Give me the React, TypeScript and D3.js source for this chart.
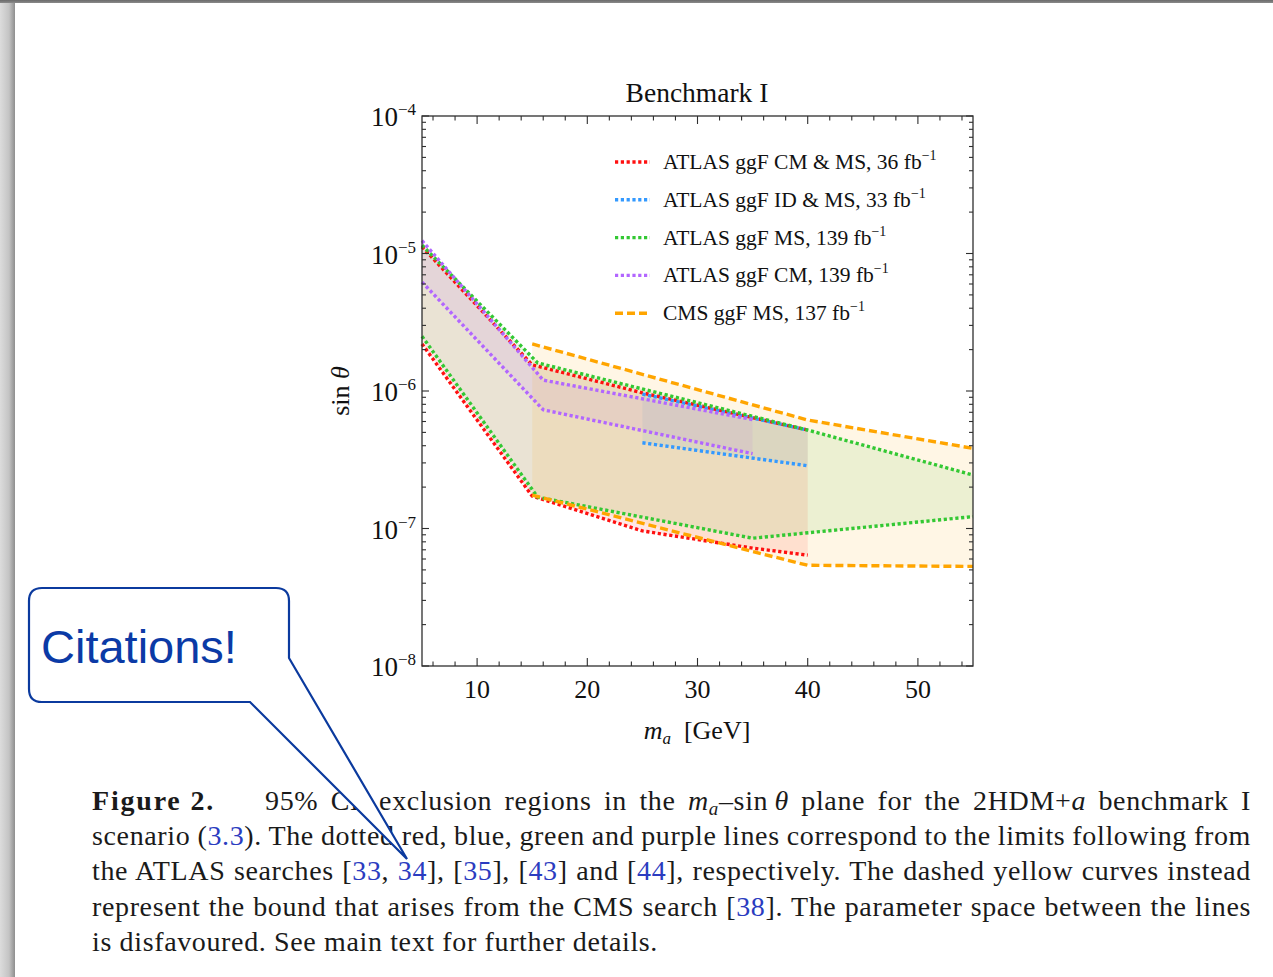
import React, { useLayoutEffect, useRef } from 'react';
import * as d3 from 'd3';

const W = 1273;
const H = 977;

// Exclusion limits on sin θ versus m_a (GeV), one upper and one lower curve per search
const redUpperX = [5, 15, 25, 40];
const redUpperY = [1.12e-5, 1.55e-6, 9.7e-7, 5.2e-7];
const redLowerX = [5, 15, 25, 35, 40];
const redLowerY = [2.2e-6, 1.72e-7, 9.6e-8, 7.2e-8, 6.4e-8];

const blueX = [25, 40];
const blueUpperY = [9.5e-7, 5.2e-7];
const blueLowerY = [4.2e-7, 2.86e-7];

const greenUpperX = [5, 15.5, 40, 55];
const greenUpperY = [1.15e-5, 1.6e-6, 5.2e-7, 2.45e-7];
const greenLowerX = [5, 15.5, 35, 55];
const greenLowerY = [2.5e-6, 1.69e-7, 8.5e-8, 1.22e-7];

const purpleX = [5, 16, 35];
const purpleUpperY = [1.24e-5, 1.2e-6, 6.2e-7];
const purpleLowerY = [6.2e-6, 7.3e-7, 3.5e-7];

const orangeUpperX = [15, 40, 55];
const orangeUpperY = [2.2e-6, 6.15e-7, 3.83e-7];
const orangeLowerX = [15, 35, 40, 55];
const orangeLowerY = [1.75e-7, 6.8e-8, 5.4e-8, 5.3e-8];

const legendLabels = [
  'ATLAS ggF CM & MS, 36 fb',
  'ATLAS ggF ID & MS, 33 fb',
  'ATLAS ggF MS, 139 fb',
  'ATLAS ggF CM, 139 fb',
  'CMS ggF MS, 137 fb',
];
const seriesColors = ['#ff1010', '#3399ff', '#33c833', '#b266ff', '#ffa500'];
const seriesDash = ['3.2 2.6', '3.2 2.6', '3.2 2.6', '3.2 2.6', '8 4'];

const xMajorTicks = [10, 20, 30, 40, 50];
const yExponents = [-4, -5, -6, -7, -8];

const zip = (xs: number[], ys: number[]) => xs.map((v, i) => [v, ys[i]] as [number, number]);

const series = [
  { upper: zip(redUpperX, redUpperY), lower: zip(redLowerX, redLowerY) },
  { upper: zip(blueX, blueUpperY), lower: zip(blueX, blueLowerY) },
  { upper: zip(greenUpperX, greenUpperY), lower: zip(greenLowerX, greenLowerY) },
  { upper: zip(purpleX, purpleUpperY), lower: zip(purpleX, purpleLowerY) },
  { upper: zip(orangeUpperX, orangeUpperY), lower: zip(orangeLowerX, orangeLowerY) },
];

const SERIF = '"Liberation Serif", "Times New Roman", serif';
const CITE = '#2b3cc0';

// caption layout: left margin, right margin, width of the last (ragged) line
const CAP_LEFT = 92;
const CAP_RIGHT = 1251;
const CAP_LAST_WIDTH = 566;
const FIG_LABEL_WIDTH = 123;
const FIRST_LINE_START = 265;

export default function App() {
  const x = d3.scaleLinear().domain([5, 55]).range([422, 973]);
  const y = d3.scaleLog().domain([1e-8, 1e-4]).range([666, 116]);
  const [x0, x1] = x.range();
  const [y0, y1] = y.range();

  const capRefs = useRef<(SVGTextElement | null)[]>([]);
  const figRef = useRef<SVGTextElement | null>(null);

  // widen the serif glyph run to the caption's measure and justify with word spacing
  useLayoutEffect(() => {
    const els = capRefs.current;
    const last = els[4];
    if (!last) return;
    const lastText = last.textContent ?? '';
    const natural = last.getComputedTextLength();
    const ls = (CAP_LAST_WIDTH - natural) / Math.max(1, lastText.length);
    els.forEach((el) => el && el.setAttribute('letter-spacing', String(ls)));
    const targets = [CAP_RIGHT - FIRST_LINE_START, CAP_RIGHT - CAP_LEFT, CAP_RIGHT - CAP_LEFT, CAP_RIGHT - CAP_LEFT];
    targets.forEach((t, i) => {
      const el = els[i];
      if (!el) return;
      const txt = el.textContent ?? '';
      const spaces = (txt.match(/ /g) || []).length;
      const w = el.getComputedTextLength();
      el.setAttribute('word-spacing', String((t - w) / Math.max(1, spaces)));
    });
    const fig = figRef.current;
    if (fig) {
      const t = fig.textContent ?? '';
      const w = fig.getComputedTextLength();
      fig.setAttribute('letter-spacing', String((FIG_LABEL_WIDTH - w) / Math.max(1, t.length)));
    }
  }, []);

  const line = d3
    .line<[number, number]>()
    .x((d) => x(d[0]))
    .y((d) => y(d[1]));

  const xTicks = x.ticks(25);
  const yTicks = y.ticks();
  const isMajorY = (v: number) => Math.abs(Math.log10(v) - Math.round(Math.log10(v))) < 1e-9;

  const frame = '#2e2e2e';

  return (
    <svg
      width={W}
      height={H}
      viewBox={`0 0 ${W} ${H}`}
      style={{ position: 'absolute', left: 0, top: 0, background: '#fff' }}
      fontFamily={SERIF}
    >
      <defs>
        <linearGradient id="sideShade" x1="0" x2="1" y1="0" y2="0">
          <stop offset="0" stopColor="#dcdcdc" />
          <stop offset="0.6" stopColor="#c4c4c4" />
          <stop offset="1" stopColor="#8e8e8e" />
        </linearGradient>
        <linearGradient id="topShade" x1="0" x2="0" y1="0" y2="1">
          <stop offset="0" stopColor="#6a6a6a" />
          <stop offset="1" stopColor="#8a8a8a" />
        </linearGradient>
      </defs>

      {/* page edges */}
      <rect x={0} y={0} width={W} height={H} fill="#fff" />
      <rect x={0} y={0} width={15} height={H} fill="url(#sideShade)" />
      <rect x={0} y={0} width={W} height={3} fill="url(#topShade)" />

      {/* title */}
      <text x={697} y={102} textAnchor="middle" fontSize={27.5} fill="#111">
        Benchmark I
      </text>

      {/* shaded regions between each pair of curves */}
      <g>
        {series.map((s, i) => (
          <path
            key={`fill-${i}`}
            d={line([...s.upper, ...[...s.lower].reverse()]) + 'Z'}
            fill={seriesColors[i]}
            fillOpacity={0.1}
            stroke="none"
          />
        ))}
      </g>

      {/* limit curves */}
      <g fill="none" strokeWidth={3.4}>
        {series.map((s, i) => (
          <g key={`curves-${i}`} stroke={seriesColors[i]} strokeDasharray={seriesDash[i]}>
            <path d={line(s.upper) ?? ''} />
            <path d={line(s.lower) ?? ''} />
          </g>
        ))}
      </g>

      {/* frame */}
      <rect x={x0} y={y1} width={x1 - x0} height={y0 - y1} fill="none" stroke={frame} strokeWidth={1.3} />

      {/* ticks on all four sides, pointing inward */}
      <g stroke={frame} strokeWidth={1.1}>
        {xTicks.map((t) => {
          const len = t % 10 === 0 ? 8 : 4.5;
          return (
            <g key={`xt-${t}`}>
              <line x1={x(t)} x2={x(t)} y1={y0} y2={y0 - len} />
              <line x1={x(t)} x2={x(t)} y1={y1} y2={y1 + len} />
            </g>
          );
        })}
        {yTicks.map((t, i) => {
          const len = isMajorY(t) ? 7 : 4;
          return (
            <g key={`yt-${i}`}>
              <line x1={x0} x2={x0 + len} y1={y(t)} y2={y(t)} />
              <line x1={x1} x2={x1 - len} y1={y(t)} y2={y(t)} />
            </g>
          );
        })}
      </g>

      {/* tick labels */}
      <g fontSize={26} fill="#111">
        {xMajorTicks.map((t) => (
          <text key={`xl-${t}`} x={x(t)} y={698} textAnchor="middle">
            {t}
          </text>
        ))}
        {yExponents.map((e) => (
          <text key={`yl-${e}`} x={416} y={y(Math.pow(10, e)) + 10} textAnchor="end" fontSize={27}>
            10
            <tspan dy={-11} fontSize={17}>
              {`\u2212${-e}`}
            </tspan>
          </text>
        ))}
      </g>

      {/* axis titles */}
      <text x={697} y={739} textAnchor="middle" fontSize={26} fill="#111">
        <tspan fontStyle="italic">m</tspan>
        <tspan fontStyle="italic" fontSize={17} dy={5}>
          a
        </tspan>
        <tspan dy={-5}>{'\u2002[GeV]'}</tspan>
      </text>
      <text transform="translate(349,391) rotate(-90)" textAnchor="middle" fontSize={26} fill="#111">
        sin <tspan fontStyle="italic">θ</tspan>
      </text>

      {/* legend */}
      <g>
        {legendLabels.map((lab, i) => {
          const ly = 162 + i * 37.8;
          return (
            <g key={`lg-${i}`}>
              <line
                x1={615}
                x2={650}
                y1={ly}
                y2={ly}
                stroke={seriesColors[i]}
                strokeWidth={3.4}
                strokeDasharray={seriesDash[i]}
              />
              <text x={663} y={ly + 7} fontSize={21.5} fill="#111">
                {lab}
                <tspan dy={-9} fontSize={14}>
                  {'\u22121'}
                </tspan>
              </text>
            </g>
          );
        })}
      </g>

      {/* caption */}
      <g fontSize={28} fill="#1a1a1a">
        <text ref={figRef} x={CAP_LEFT} y={810} fontWeight="bold">
          Figure 2.
        </text>
        <text ref={(el) => (capRefs.current[0] = el)} x={FIRST_LINE_START} y={810}>
          95% CL exclusion regions in the <tspan fontStyle="italic">m</tspan>
          <tspan fontStyle="italic" fontSize={19} dy={5}>
            a
          </tspan>
          <tspan dy={-5}>{'\u2013sin\u2009'}</tspan>
          <tspan fontStyle="italic">θ</tspan> plane for the 2HDM+<tspan fontStyle="italic">a</tspan> benchmark I
        </text>
        <text ref={(el) => (capRefs.current[1] = el)} x={CAP_LEFT} y={845}>
          scenario (<tspan fill={CITE}>3.3</tspan>). The dotted red, blue, green and purple lines correspond to the
          limits following from
        </text>
        <text ref={(el) => (capRefs.current[2] = el)} x={CAP_LEFT} y={880}>
          the ATLAS searches [<tspan fill={CITE}>33</tspan>, <tspan fill={CITE}>34</tspan>], [
          <tspan fill={CITE}>35</tspan>], [<tspan fill={CITE}>43</tspan>] and [<tspan fill={CITE}>44</tspan>],
          respectively. The dashed yellow curves instead
        </text>
        <text ref={(el) => (capRefs.current[3] = el)} x={CAP_LEFT} y={916}>
          represent the bound that arises from the CMS search [<tspan fill={CITE}>38</tspan>]. The parameter space
          between the lines
        </text>
        <text ref={(el) => (capRefs.current[4] = el)} x={CAP_LEFT} y={951}>
          is disfavoured. See main text for further details.
        </text>
      </g>

      {/* callout */}
      <path
        d="M42,588 L276,588 Q289,588 289,601 L289,658 L407,859 L250,702 L42,702 Q29,702 29,689 L29,601 Q29,588 42,588 Z"
        fill="#fff"
        stroke="#0b3a9e"
        strokeWidth={2.2}
        strokeLinejoin="miter"
      />
      <text x={41} y={663} fontSize={47} fill="#0b3aa6" fontFamily='"Liberation Sans", Arial, sans-serif'>
        Citations!
      </text>
    </svg>
  );
}
